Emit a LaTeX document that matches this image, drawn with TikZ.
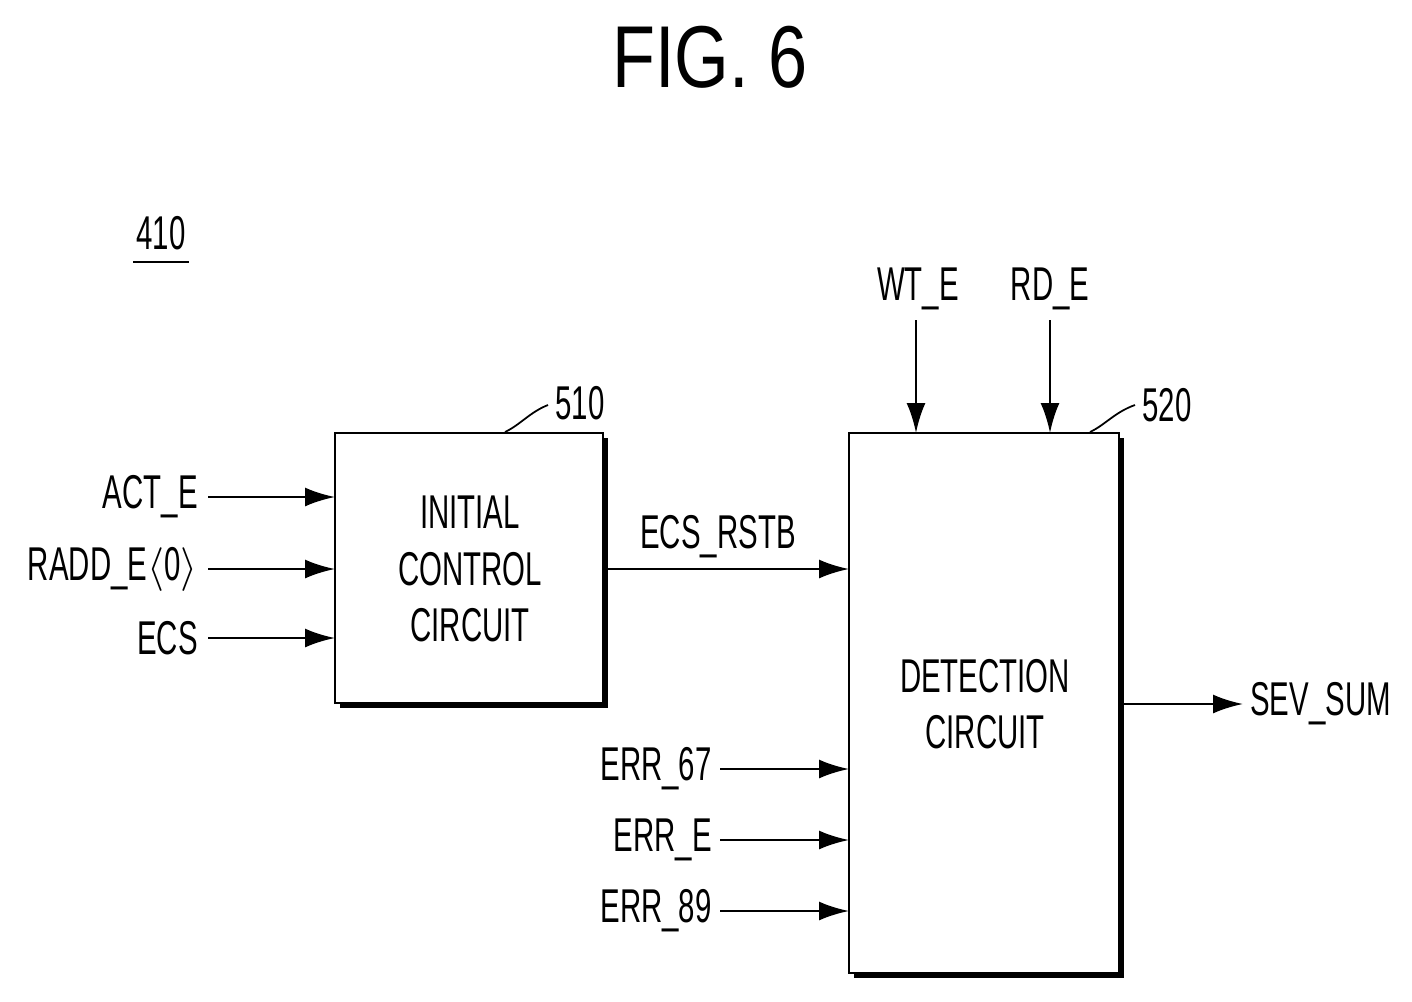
\documentclass[tikz,border=0pt]{standalone}
\usepackage{fontspec}
\setmainfont{Liberation Sans}[FakeStretch=0.62]
\newfontfamily\titlefont{Liberation Sans}[FakeStretch=0.8]
\usetikzlibrary{arrows.meta}
\begin{document}
\begin{tikzpicture}[x=0.02cm,y=-0.02cm,
  lab/.style={font=\fontsize{27}{30}\selectfont,inner sep=0pt},
  arr/.style={line width=1.4pt,-{Latex[length=0.6cm,width=0.38cm]}},
  box/.style={draw,line width=1.6pt,fill=white}]
\useasboundingbox (0,0) rectangle (1412,1001);
\node[font=\titlefont\fontsize{50}{60}\selectfont] (title) at (710,57) {FIG. 6};
\node[lab] (n410) at (161,233) {410};
\draw[line width=1.4pt] (133,262) -- (189,262);
% shadows
\fill (340,438) rectangle (608,708);
\fill (854,438) rectangle (1124,978);
\draw[box] (335,433) rectangle (603,703);
\draw[box] (849,433) rectangle (1119,973);
\node[lab,align=center] (ic) at (470,569) {INITIAL\\[2pt]CONTROL\\[2pt]CIRCUIT};
\node[lab,align=center] (dc) at (985,704) {DETECTION\\[2pt]CIRCUIT};
\node[lab] (l510) at (580,403) {510};
\node[lab] (l520) at (1167,405) {520};
\draw[line width=1pt] (505,432) .. controls (520,425) and (530,412) .. (548,405);
\draw[line width=1pt] (1090,432) .. controls (1105,425) and (1115,412) .. (1135,405);
\node[lab,anchor=east] (act) at (198,497) {ACT\_E};
\node[lab,anchor=east] (radd) at (198,569) {RADD\_E$\langle$0$\rangle$};
\node[lab,anchor=east] (ecs) at (198,638) {ECS};
\draw[arr] (208,497) -- (335,497);
\draw[arr] (208,569) -- (335,569);
\draw[arr] (208,638) -- (335,638);
\node[lab] (rstb) at (718,537) {ECS\_RSTB};
\draw[arr] (607,569) -- (849,569);
\node[lab,anchor=east] (e67) at (712,769) {ERR\_67};
\node[lab,anchor=east] (ee) at (712,840) {ERR\_E};
\node[lab,anchor=east] (e89) at (712,911) {ERR\_89};
\draw[arr] (720,769) -- (849,769);
\draw[arr] (720,840) -- (849,840);
\draw[arr] (720,911) -- (849,911);
\node[lab] (wt) at (918,289) {WT\_E};
\node[lab] (rd) at (1050,289) {RD\_E};
\draw[arr] (916,320) -- (916,433);
\draw[arr] (1050,320) -- (1050,433);
\node[lab,anchor=west] (sev) at (1250,704) {SEV\_SUM};
\draw[arr] (1123,704) -- (1243,704);
\end{tikzpicture}
\end{document}
